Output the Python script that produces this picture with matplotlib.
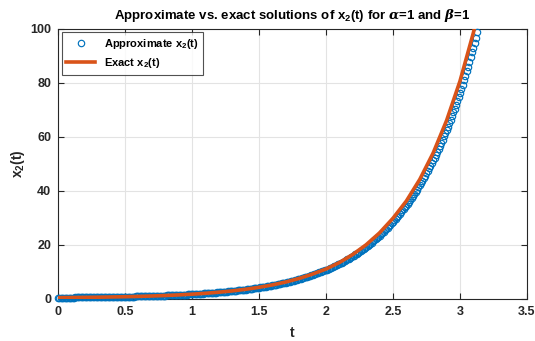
import numpy as np
import matplotlib
matplotlib.use("Agg")
import matplotlib.pyplot as plt

# exact solution
t_exact = [0.0, 0.1, 0.2, 0.3, 0.4, 0.5, 0.6, 0.7, 0.8, 0.9,
           1.0, 1.1, 1.2, 1.3, 1.4, 1.5, 1.6, 1.7, 1.8, 1.9,
           2.0, 2.1, 2.2, 2.3, 2.4, 2.5, 2.6, 2.7, 2.8, 2.9,
           3.0, 3.1, 3.15]
x2_exact = [0.50, 0.54, 0.60, 0.66, 0.75, 0.84, 0.96, 1.11, 1.29, 1.51,
            1.78, 2.11, 2.51, 2.99, 3.59, 4.32, 5.21, 6.29, 7.62, 9.24,
            11.1, 13.5, 16.5, 20.1, 24.5, 29.9, 36.3, 44.3, 54.1, 66.1,
            80.7, 98.6, 109.1]

# approximate solution, sampled every 0.01 in t (blue circles)
dt_approx = 0.01
x2_approx = [
    0.50, 0.50, 0.51, 0.51, 0.52, 0.52, 0.53, 0.53, 0.53, 0.54,
    0.54, 0.55, 0.55, 0.56, 0.56, 0.57, 0.57, 0.58, 0.59, 0.59,
    0.60, 0.60, 0.61, 0.62, 0.62, 0.63, 0.63, 0.64, 0.65, 0.66,
    0.66, 0.67, 0.68, 0.68, 0.69, 0.70, 0.71, 0.72, 0.72, 0.73,
    0.74, 0.75, 0.76, 0.77, 0.78, 0.79, 0.80, 0.81, 0.82, 0.83,
    0.84, 0.85, 0.86, 0.87, 0.88, 0.89, 0.91, 0.92, 0.93, 0.94,
    0.96, 0.97, 0.98, 1.00, 1.01, 1.03, 1.04, 1.05, 1.07, 1.09,
    1.10, 1.12, 1.13, 1.15, 1.17, 1.18, 1.20, 1.22, 1.24, 1.26,
    1.28, 1.30, 1.32, 1.34, 1.36, 1.38, 1.40, 1.42, 1.45, 1.47,
    1.49, 1.51, 1.54, 1.56, 1.59, 1.61, 1.64, 1.67, 1.70, 1.72,
    1.75, 1.78, 1.81, 1.84, 1.87, 1.90, 1.93, 1.97, 2.00, 2.04,
    2.07, 2.10, 2.14, 2.18, 2.21, 2.25, 2.29, 2.33, 2.37, 2.42,
    2.46, 2.50, 2.54, 2.59, 2.63, 2.68, 2.73, 2.78, 2.83, 2.88,
    2.93, 2.98, 3.03, 3.09, 3.15, 3.20, 3.26, 3.32, 3.38, 3.45,
    3.50, 3.57, 3.63, 3.70, 3.77, 3.84, 3.91, 3.98, 4.06, 4.13,
    4.21, 4.28, 4.36, 4.45, 4.53, 4.62, 4.70, 4.79, 4.88, 4.98,
    5.06, 5.16, 5.26, 5.36, 5.46, 5.56, 5.67, 5.78, 5.89, 6.00,
    6.10, 6.22, 6.34, 6.46, 6.59, 6.71, 6.84, 6.98, 7.11, 7.25,
    7.38, 7.52, 7.66, 7.81, 7.97, 8.12, 8.28, 8.44, 8.60, 8.77,
    8.93, 9.10, 9.28, 9.46, 9.64, 9.83, 10.03, 10.22, 10.42, 10.63,
    10.7, 10.9, 11.1, 11.4, 11.6, 11.8, 12.1, 12.3, 12.5, 12.8,
    13.0, 13.3, 13.5, 13.8, 14.1, 14.4, 14.7, 14.9, 15.2, 15.5,
    15.8, 16.1, 16.5, 16.8, 17.1, 17.5, 17.8, 18.2, 18.5, 18.9,
    19.3, 19.6, 20.0, 20.4, 20.8, 21.3, 21.7, 22.1, 22.6, 23.0,
    23.4, 23.9, 24.4, 24.9, 25.4, 25.9, 26.4, 26.9, 27.5, 28.0,
    28.5, 29.1, 29.7, 30.3, 30.9, 31.5, 32.1, 32.8, 33.4, 34.1,
    34.5, 35.2, 35.9, 36.7, 37.4, 38.2, 38.9, 39.7, 40.5, 41.3,
    42.1, 42.9, 43.8, 44.7, 45.6, 46.5, 47.5, 48.4, 49.4, 50.4,
    51.3, 52.3, 53.4, 54.5, 55.6, 56.7, 57.9, 59.0, 60.2, 61.4,
    62.6, 63.8, 65.1, 66.4, 67.8, 69.1, 70.5, 72.0, 73.4, 74.9,
    76.3, 77.8, 79.4, 81.0, 82.6, 84.3, 86.0, 87.7, 89.5, 91.3,
    93.0, 94.8, 96.8, 98.7,
]
t_approx = np.arange(len(x2_approx)) * dt_approx

x_ticks = [0, 0.5, 1, 1.5, 2, 2.5, 3, 3.5]
x_tick_labels = ["0", "0.5", "1", "1.5", "2", "2.5", "3", "3.5"]
y_ticks = [0, 20, 40, 60, 80, 100]

BLUE = "#0072BD"
ORANGE = "#D95319"
AXC = "#262626"

plt.rcParams["font.family"] = ["Liberation Sans", "DejaVu Sans"]
plt.rcParams["font.weight"] = "bold"
plt.rcParams["mathtext.fontset"] = "custom"
plt.rcParams["mathtext.rm"] = "Liberation Sans:bold"
plt.rcParams["mathtext.bf"] = "Liberation Sans:bold"
plt.rcParams["mathtext.it"] = "DejaVu Serif:italic"

SUB = r"$_{\mathbf{2}}$"

fig = plt.figure(figsize=(5.35, 3.41), dpi=100)
ax = fig.add_axes([0.1084, 0.1232, 0.8766, 0.7918])

ax.plot(t_approx, x2_approx, linestyle="none", marker="o", markersize=4.6,
        markerfacecolor="none", markeredgecolor=BLUE, markeredgewidth=0.85,
        clip_on=False, label="Approximate x" + SUB + "(t)", zorder=3)
ax.plot(t_exact, x2_exact, color=ORANGE, linewidth=2.6,
        label="Exact x" + SUB + "(t)", zorder=4)

ax.set_xlim(0, 3.5)
ax.set_ylim(0, 100)
ax.set_xticks(x_ticks)
ax.set_xticklabels(x_tick_labels)
ax.set_yticks(y_ticks)

ax.grid(True, color="#E3E3E3", linewidth=0.8)
ax.set_axisbelow(True)
for sp in ax.spines.values():
    sp.set_color(AXC)
    sp.set_linewidth(0.8)
ax.tick_params(direction="in", length=4, width=0.8, colors=AXC,
               labelsize=9, top=True, right=True, pad=5)
for lab in ax.get_xticklabels() + ax.get_yticklabels():
    lab.set_fontweight("bold")

ax.set_xlabel("t", fontsize=10, fontweight="bold", color=AXC, labelpad=6)
ax.set_ylabel("x" + SUB + "(t)", fontsize=10, fontweight="bold",
              color=AXC, labelpad=2)
ax.set_title("Approximate vs. exact solutions of x" + SUB + r"(t) for $\alpha$=1 and $\beta$=1",
             fontsize=9.5, fontweight="bold", color="black", pad=7)

leg = ax.legend(loc="upper left", fontsize=8, frameon=True, fancybox=False,
                edgecolor=AXC, borderpad=0.4, handlelength=2.6,
                bbox_to_anchor=(0.008, 0.988), borderaxespad=0.0)
leg.get_frame().set_linewidth(0.8)
for txt in leg.get_texts():
    txt.set_fontweight("bold")

fig.savefig("out.png", dpi=100)
